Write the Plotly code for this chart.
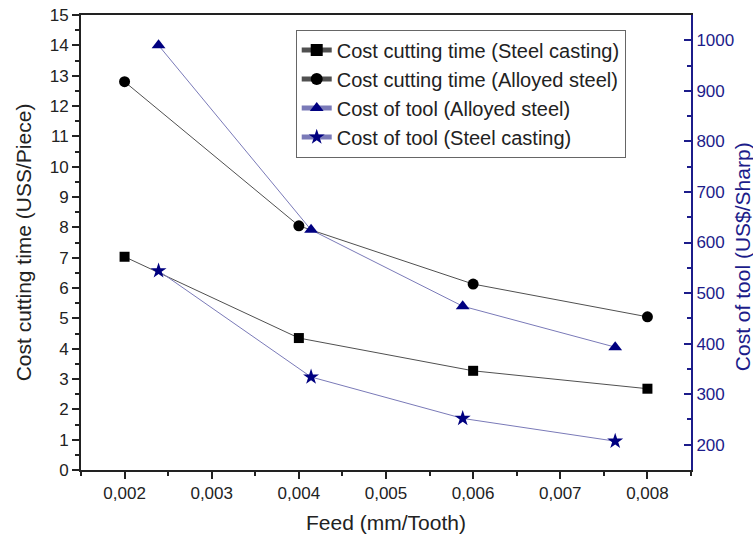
import plotly.graph_objects as go

# Data
feed_cut = [0.002, 0.004, 0.006, 0.008]
cut_steel_casting = [7.03, 4.35, 3.27, 2.68]
cut_alloyed_steel = [12.8, 8.05, 6.13, 5.05]

feed_tool = [0.00239, 0.00414, 0.00588, 0.00763]
tool_alloyed_steel = [990, 625, 474, 393]
tool_steel_casting = [544, 334, 252, 207]

x_tickvals = [0.002, 0.003, 0.004, 0.005, 0.006, 0.007, 0.008]
x_ticktext = ["0,002", "0,003", "0,004", "0,005", "0,006", "0,007", "0,008"]
y_tickvals = list(range(0, 16))
y2_tickvals = [200, 300, 400, 500, 600, 700, 800, 900, 1000]

NAVY = "#000080"
AXNAVY = "#1c1c8a"
FONT = "Liberation Sans, Arial, sans-serif"

fig = go.Figure()
fig.add_trace(go.Scatter(
    x=feed_cut, y=cut_steel_casting, mode="lines+markers",
    name="Cost cutting time (Steel casting)",
    line=dict(color="#505050", width=1),
    marker=dict(symbol="square", size=10, color="black"),
))
fig.add_trace(go.Scatter(
    x=feed_cut, y=cut_alloyed_steel, mode="lines+markers",
    name="Cost cutting time (Alloyed steel)",
    line=dict(color="#505050", width=1),
    marker=dict(symbol="circle", size=11, color="black"),
))
fig.add_trace(go.Scatter(
    x=feed_tool, y=tool_alloyed_steel, mode="lines+markers",
    name="Cost of tool (Alloyed steel)", yaxis="y2",
    line=dict(color="#7a7ab8", width=1),
    marker=dict(symbol="triangle-up", size=12, color=NAVY),
))
fig.add_trace(go.Scatter(
    x=feed_tool, y=tool_steel_casting, mode="lines+markers",
    name="Cost of tool (Steel casting)", yaxis="y2",
    line=dict(color="#7a7ab8", width=1),
    marker=dict(symbol="star", size=12, color=NAVY),
))

fig.update_layout(
    width=753, height=543,
    margin=dict(l=81, r=62, t=15, b=73),
    paper_bgcolor="white", plot_bgcolor="white",
    font=dict(family=FONT, color="#222", size=17),
    showlegend=True,
    legend=dict(
        x=0.352, y=0.968, xanchor="left", yanchor="top",
        bgcolor="white", bordercolor="#666", borderwidth=1,
        font=dict(size=20, color="#222"),
        tracegroupgap=0, itemsizing="constant",
    ),
    xaxis=dict(
        range=[0.0015, 0.0085], automargin=False,
        tickvals=x_tickvals, ticktext=x_ticktext,
        ticks="outside", ticklen=7, tickwidth=1.5, tickcolor="#222",
        minor=dict(dtick=0.0005, tick0=0.0015, ticks="outside", ticklen=4, tickcolor="#222"),
        showline=True, linecolor="#222", linewidth=2, mirror=True,
        showgrid=False, zeroline=False,
        tickfont=dict(size=17),
        title=dict(text="Feed (mm/Tooth)", font=dict(size=21), standoff=13),
    ),
    yaxis=dict(
        range=[0, 15], automargin=False,
        tickvals=y_tickvals,
        ticks="outside", ticklen=7, tickwidth=1.5, tickcolor="#222",
        minor=dict(dtick=0.5, tick0=0, ticks="outside", ticklen=4, tickcolor="#222"),
        showline=True, linecolor="#222", linewidth=2,
        showgrid=False, zeroline=False,
        tickfont=dict(size=17),
        title=dict(text="Cost cutting time (USS/Piece)", font=dict(size=21), standoff=12),
    ),
    yaxis2=dict(
        overlaying="y", side="right", automargin=False,
        range=[150, 1050],
        tickvals=y2_tickvals,
        ticks="inside", ticklen=7, tickwidth=1.5, tickcolor=AXNAVY,
        minor=dict(dtick=50, tick0=150, ticks="inside", ticklen=4, tickcolor=AXNAVY),
        showline=True, linecolor=AXNAVY, linewidth=2,
        showgrid=False, zeroline=False,
        tickfont=dict(size=17, color=AXNAVY),
    ),
    annotations=[dict(
        text="Cost of tool (US$/Sharp)", xref="paper", yref="paper",
        x=1.0836, y=0.47, xanchor="center", yanchor="middle",
        textangle=-90, showarrow=False,
        font=dict(size=21, color=AXNAVY),
    )],
)

fig.write_html("out.html")
